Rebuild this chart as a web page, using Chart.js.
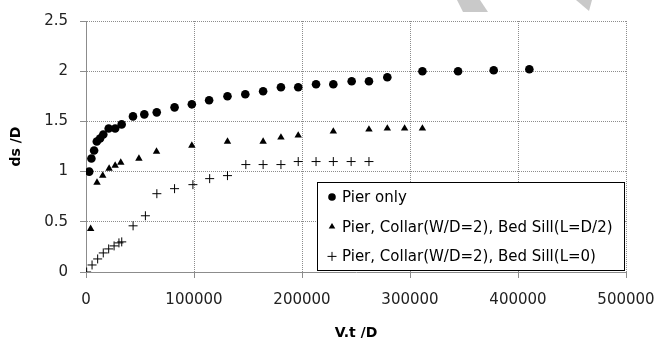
<!DOCTYPE html>
<html>
<head>
<meta charset="utf-8">
<script src="https://cdn.jsdelivr.net/npm/chart.js@4/dist/chart.umd.min.js"></script>
<style>
html, body { margin: 0; padding: 0; background: #fff; }
</style>
</head>
<body>
<canvas id="scourChart" width="655" height="338"></canvas>
<script>
// scour depth ds/D against dimensionless time V.t/D
var pierX = [3000, 5000, 7500, 10000, 13000, 16000, 21000, 27000, 33000, 43500, 54000, 65500, 82000, 98000, 114000, 131000, 147500, 164000, 180500, 196500, 213000, 229000, 246000, 262000, 279000, 311500, 344500, 377500, 410500];
var pierY = [1.00, 1.13, 1.21, 1.30, 1.33, 1.37, 1.43, 1.43, 1.47, 1.55, 1.57, 1.59, 1.64, 1.67, 1.71, 1.75, 1.77, 1.80, 1.84, 1.84, 1.87, 1.87, 1.90, 1.90, 1.94, 2.00, 2.00, 2.01, 2.02];

var sillHalfX = [4300, 10200, 15500, 21400, 27000, 32200, 49000, 65300, 98000, 131000, 164000, 180500, 196500, 229000, 262000, 279000, 295000, 311500];
var sillHalfY = [0.43, 0.89, 0.96, 1.03, 1.06, 1.09, 1.13, 1.20, 1.26, 1.30, 1.30, 1.34, 1.36, 1.40, 1.42, 1.43, 1.43, 1.43];

var sillZeroX = [600, 5600, 10800, 16000, 21000, 26000, 30500, 33100, 43600, 55000, 65600, 82000, 99000, 114500, 131000, 148000, 164000, 180500, 196500, 213000, 229000, 245500, 262000];
var sillZeroY = [0.00, 0.07, 0.13, 0.19, 0.23, 0.26, 0.29, 0.30, 0.46, 0.56, 0.78, 0.83, 0.87, 0.93, 0.96, 1.07, 1.07, 1.07, 1.10, 1.10, 1.10, 1.10, 1.10];

var seriesNames = ['Pier only', 'Pier, Collar(W/D=2), Bed Sill(L=D/2)', 'Pier, Collar(W/D=2), Bed Sill(L=0)'];
var xTickLabels = ['0', '100000', '200000', '300000', '400000', '500000'];
var yTickLabels = ['0', '0.5', '1', '1.5', '2', '2.5'];

function toPoints(xs, ys) {
    return xs.map(function (x, i) { return { x: x, y: ys[i] }; });
}

function drawMark(c, style, x, y, r) {
    c.beginPath();
    if (style === 'circle') {
        c.arc(x, y, r, 0, Math.PI * 2);
        c.fill();
    } else if (style === 'triangle') {
        c.moveTo(x, y - r);
        c.lineTo(x + r * 0.866, y + r * 0.5);
        c.lineTo(x - r * 0.866, y + r * 0.5);
        c.closePath();
        c.fill();
    } else {
        c.moveTo(x - r, y); c.lineTo(x + r, y);
        c.moveTo(x, y - r); c.lineTo(x, y + r);
        c.stroke();
    }
}

// legend box sits inside the plot, bottom right
var boxLegend = {
    id: 'boxLegend',
    afterDraw: function (chart) {
        var c = chart.ctx;
        var left = 317.5, top = 182.5, w = 307, h = 88;
        c.save();
        c.fillStyle = '#fff';
        c.fillRect(left, top, w, h);
        c.strokeStyle = '#000';
        c.lineWidth = 1;
        c.strokeRect(left, top, w, h);
        c.font = '15px "DejaVu Sans"';
        c.textBaseline = 'middle';
        chart.data.datasets.forEach(function (ds, i) {
            var y = top + 14.5 + i * 29.7;
            c.fillStyle = '#000';
            c.strokeStyle = '#000';
            drawMark(c, ds.pointStyle, 332, y, ds.pointStyle === 'cross' ? 4.5 : 3.8);
            c.fillText(ds.label, 342, y + 1);
        });
        // faint watermark pieces at the top edge
        c.fillStyle = '#c9c9c9';
        c.beginPath();
        c.moveTo(457, 0); c.lineTo(480, 0); c.lineTo(488, 12); c.lineTo(463, 12);
        c.closePath(); c.fill();
        c.beginPath();
        c.moveTo(576, 0); c.lineTo(592, 0); c.lineTo(589, 11);
        c.closePath(); c.fill();
        c.restore();
    }
};

var chartCtx = document.getElementById('scourChart').getContext('2d');
var myChart = new Chart(chartCtx, {
    type: 'scatter',
    data: {
        datasets: [
            { label: seriesNames[0], data: toPoints(pierX, pierY), pointStyle: 'circle', pointRadius: 4.3, backgroundColor: '#000', borderColor: '#000', borderWidth: 0 },
            { label: seriesNames[1], data: toPoints(sillHalfX, sillHalfY), pointStyle: 'triangle', pointRadius: 4.3, backgroundColor: '#000', borderColor: '#000', borderWidth: 0 },
            { label: seriesNames[2], data: toPoints(sillZeroX, sillZeroY), pointStyle: 'cross', pointRadius: 4.5, backgroundColor: '#000', borderColor: '#000', borderWidth: 1 }
        ]
    },
    options: {
        responsive: false,
        animation: false,
        layout: { padding: { top: 20, right: 29, left: 0, bottom: 0 } },
        plugins: {
            legend: { display: false },
            tooltip: { enabled: false }
        },
        scales: {
            x: {
                type: 'linear',
                min: 0,
                max: 500000,
                afterFit: function (scale) {
                    scale.height = 66;
                    scale.paddingLeft = 0;
                    scale.paddingRight = 0;
                },
                ticks: {
                    stepSize: 100000,
                    padding: 13,
                    color: '#222',
                    font: { family: '"DejaVu Sans"', size: 15 },
                    callback: function (v, i) { return xTickLabels[i]; }
                },
                grid: { color: '#8c8c8c', lineWidth: 1, tickLength: 6, tickColor: '#8c8c8c' },
                border: { display: true, color: '#8c8c8c', width: 1, dash: [1, 1] },
                title: {
                    display: true,
                    text: 'V.t /D',
                    color: '#000',
                    font: { family: '"DejaVu Sans"', size: 14, weight: 'bold', lineHeight: 1 },
                    padding: { top: 0, bottom: -2 }
                }
            },
            y: {
                min: 0,
                max: 2.5,
                afterFit: function (scale) {
                    scale.width = 86;
                },
                ticks: {
                    stepSize: 0.5,
                    padding: 12,
                    color: '#222',
                    font: { family: '"DejaVu Sans"', size: 15 },
                    callback: function (v, i) { return yTickLabels[i]; }
                },
                grid: { color: '#8c8c8c', lineWidth: 1, tickLength: 6, tickColor: '#8c8c8c' },
                border: { display: true, color: '#8c8c8c', width: 1, dash: [1, 1] },
                title: {
                    display: true,
                    text: 'ds /D',
                    color: '#000',
                    font: { family: '"DejaVu Sans"', size: 14, weight: 'bold' },
                    padding: { top: 8, bottom: 0 }
                }
            }
        }
    },
    plugins: [boxLegend]
});
</script>
</body>
</html>
